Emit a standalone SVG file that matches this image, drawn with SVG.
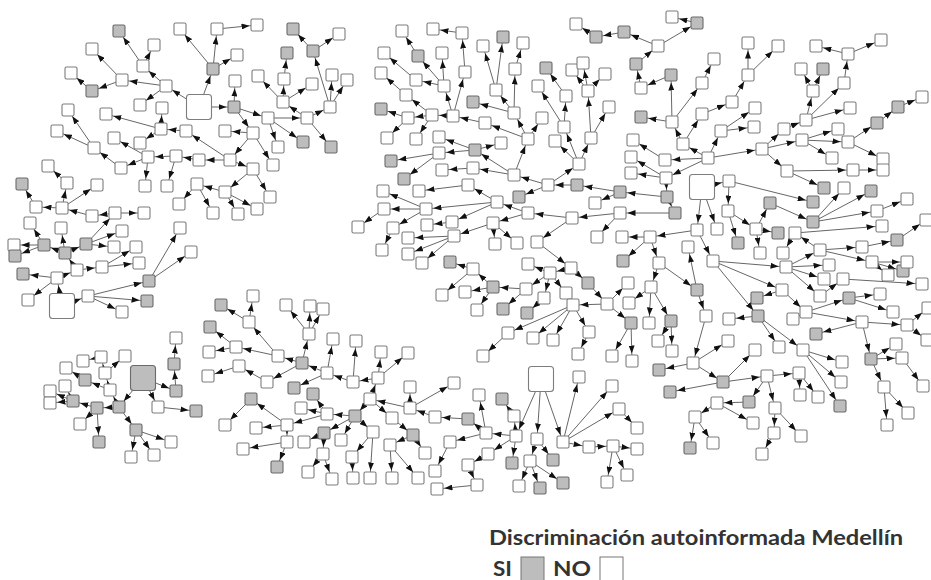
<svg xmlns="http://www.w3.org/2000/svg" xmlns:xlink="http://www.w3.org/1999/xlink" width="931" height="580" viewBox="0 0 931 580">
<style>
#edges line{stroke:#555;stroke-width:0.9;marker-end:url(#ah)}
.lg{font-family:Lato,"Open Sans","Liberation Sans",sans-serif;font-weight:bold;font-size:21px;fill:#333}
.lg2{font-family:Lato,"Open Sans","Liberation Sans",sans-serif;font-weight:bold;font-size:20px;fill:#333}
</style>
<defs>
<marker id="ah" viewBox="0 0 8 6" refX="15.5" refY="3" markerWidth="8" markerHeight="6" markerUnits="userSpaceOnUse" orient="auto"><path d="M0,0L8,3L0,6z" fill="#111"/></marker>
<rect id="W" x="-6" y="-6" width="12" height="12" rx="1.5" fill="#fff" stroke="#7d7d7d" stroke-width="1.1"/>
<rect id="G" x="-6" y="-6" width="12" height="12" rx="1.5" fill="#bdbdbd" stroke="#6a6a6a" stroke-width="1.1"/>
<rect id="L" x="-12.5" y="-12.5" width="25" height="25" rx="3" fill="#fff" stroke="#7d7d7d" stroke-width="1.1"/>
<rect id="LG" x="-12.5" y="-12.5" width="25" height="25" rx="3" fill="#bdbdbd" stroke="#6a6a6a" stroke-width="1.1"/>
</defs>
<rect width="931" height="580" fill="#fff"/>
<g id="edges">
<line x1="199" y1="107" x2="166" y2="86"/><line x1="199" y1="107" x2="213" y2="69"/><line x1="199" y1="107" x2="234" y2="107"/>
<line x1="166" y1="86" x2="143" y2="66"/><line x1="166" y1="86" x2="122" y2="80"/><line x1="166" y1="86" x2="140" y2="105"/>
<line x1="143" y1="66" x2="119" y2="31"/><line x1="143" y1="66" x2="154" y2="45"/>
<line x1="122" y1="80" x2="92" y2="49"/><line x1="122" y1="80" x2="92" y2="91"/><line x1="92" y1="91" x2="71" y2="73"/>
<line x1="213" y1="69" x2="180" y2="29"/><line x1="213" y1="69" x2="217" y2="29"/><line x1="213" y1="69" x2="237" y2="55"/><line x1="217" y1="29" x2="257" y2="25"/>
<line x1="234" y1="107" x2="235" y2="81"/><line x1="234" y1="107" x2="268" y2="118"/><line x1="234" y1="107" x2="253" y2="133"/>
<line x1="268" y1="118" x2="307" y2="118"/><line x1="268" y1="118" x2="278" y2="147"/><line x1="268" y1="118" x2="303" y2="142"/>
<line x1="307" y1="118" x2="283" y2="102"/><line x1="307" y1="118" x2="330" y2="107"/><line x1="307" y1="118" x2="331" y2="147"/>
<line x1="283" y1="102" x2="258" y2="76"/><line x1="283" y1="102" x2="284" y2="79"/><line x1="283" y1="102" x2="312" y2="84"/><line x1="284" y1="79" x2="287" y2="53"/>
<line x1="330" y1="107" x2="313" y2="51"/><line x1="330" y1="107" x2="332" y2="75"/><line x1="330" y1="107" x2="347" y2="80"/><line x1="313" y1="51" x2="293" y2="29"/><line x1="313" y1="51" x2="339" y2="34"/>
<line x1="253" y1="133" x2="225" y2="131"/><line x1="253" y1="133" x2="230" y2="160"/><line x1="253" y1="133" x2="273" y2="165"/>
<line x1="230" y1="160" x2="186" y2="131"/><line x1="230" y1="160" x2="199" y2="160"/><line x1="230" y1="160" x2="253" y2="169"/>
<line x1="186" y1="131" x2="161" y2="129"/><line x1="161" y1="129" x2="162" y2="108"/><line x1="161" y1="129" x2="106" y2="114"/><line x1="161" y1="129" x2="140" y2="143"/>
<line x1="199" y1="160" x2="176" y2="156"/><line x1="176" y1="156" x2="148" y2="157"/><line x1="176" y1="156" x2="167" y2="186"/>
<line x1="148" y1="157" x2="114" y2="138"/><line x1="148" y1="157" x2="121" y2="168"/><line x1="148" y1="157" x2="145" y2="186"/>
<line x1="121" y1="168" x2="94" y2="148"/><line x1="94" y1="148" x2="68" y2="110"/><line x1="94" y1="148" x2="57" y2="131"/>
<line x1="253" y1="169" x2="225" y2="192"/><line x1="253" y1="169" x2="270" y2="197"/>
<line x1="225" y1="192" x2="197" y2="184"/><line x1="225" y1="192" x2="257" y2="209"/><line x1="225" y1="192" x2="238" y2="214"/>
<line x1="197" y1="184" x2="179" y2="204"/><line x1="197" y1="184" x2="213" y2="213"/>
<line x1="62" y1="306" x2="57" y2="278"/><line x1="62" y1="306" x2="88" y2="296"/>
<line x1="57" y1="278" x2="23" y2="274"/><line x1="57" y1="278" x2="77" y2="270"/><line x1="57" y1="278" x2="28" y2="300"/>
<line x1="77" y1="270" x2="102" y2="267"/><line x1="77" y1="270" x2="65" y2="253"/>
<line x1="102" y1="267" x2="139" y2="263"/><line x1="102" y1="267" x2="136" y2="247"/>
<line x1="65" y1="253" x2="44" y2="245"/><line x1="65" y1="253" x2="61" y2="228"/><line x1="65" y1="253" x2="86" y2="244"/>
<line x1="44" y1="245" x2="14" y2="245"/><line x1="44" y1="245" x2="15" y2="256"/><line x1="44" y1="245" x2="30" y2="223"/>
<line x1="86" y1="244" x2="114" y2="247"/><line x1="86" y1="244" x2="115" y2="213"/><line x1="86" y1="244" x2="122" y2="231"/>
<line x1="115" y1="213" x2="92" y2="216"/><line x1="115" y1="213" x2="144" y2="213"/><line x1="92" y1="216" x2="62" y2="208"/>
<line x1="62" y1="208" x2="36" y2="207"/><line x1="62" y1="208" x2="67" y2="183"/><line x1="62" y1="208" x2="97" y2="185"/><line x1="36" y1="207" x2="22" y2="184"/><line x1="67" y1="183" x2="48" y2="166"/>
<line x1="88" y1="296" x2="149" y2="281"/><line x1="88" y1="296" x2="147" y2="301"/><line x1="88" y1="296" x2="122" y2="312"/>
<line x1="149" y1="281" x2="191" y2="252"/><line x1="149" y1="281" x2="180" y2="228"/>
<line x1="143" y1="378" x2="176" y2="391"/><line x1="176" y1="391" x2="174" y2="364"/><line x1="174" y1="364" x2="176" y2="338"/>
<line x1="143" y1="378" x2="158" y2="407"/><line x1="158" y1="407" x2="196" y2="411"/><line x1="143" y1="378" x2="119" y2="407"/>
<line x1="119" y1="407" x2="110" y2="390"/><line x1="110" y1="390" x2="85" y2="380"/><line x1="110" y1="390" x2="105" y2="373"/><line x1="105" y1="373" x2="101" y2="357"/><line x1="105" y1="373" x2="125" y2="356"/><line x1="101" y1="357" x2="83" y2="361"/><line x1="85" y1="380" x2="66" y2="368"/>
<line x1="119" y1="407" x2="97" y2="408"/><line x1="97" y1="408" x2="73" y2="401"/><line x1="97" y1="408" x2="80" y2="424"/><line x1="97" y1="408" x2="99" y2="442"/>
<line x1="73" y1="401" x2="50" y2="391"/><line x1="73" y1="401" x2="50" y2="403"/><line x1="73" y1="401" x2="65" y2="386"/>
<line x1="119" y1="407" x2="136" y2="430"/><line x1="136" y1="430" x2="131" y2="457"/><line x1="136" y1="430" x2="154" y2="455"/><line x1="136" y1="430" x2="171" y2="442"/>
<line x1="278" y1="356" x2="249" y2="322"/><line x1="249" y1="322" x2="253" y2="296"/><line x1="249" y1="322" x2="221" y2="305"/>
<line x1="278" y1="356" x2="236" y2="347"/><line x1="236" y1="347" x2="210" y2="327"/><line x1="236" y1="347" x2="209" y2="352"/>
<line x1="302" y1="363" x2="278" y2="356"/><line x1="302" y1="363" x2="309" y2="334"/><line x1="309" y1="334" x2="286" y2="305"/><line x1="309" y1="334" x2="310" y2="306"/><line x1="309" y1="334" x2="323" y2="309"/>
<line x1="302" y1="363" x2="267" y2="382"/><line x1="267" y1="382" x2="239" y2="366"/><line x1="239" y1="366" x2="208" y2="376"/>
<line x1="327" y1="373" x2="302" y2="363"/><line x1="327" y1="373" x2="333" y2="339"/><line x1="327" y1="373" x2="294" y2="388"/>
<line x1="353" y1="382" x2="327" y2="373"/><line x1="353" y1="382" x2="356" y2="341"/>
<line x1="378" y1="378" x2="353" y2="382"/><line x1="378" y1="378" x2="381" y2="352"/><line x1="378" y1="378" x2="408" y2="353"/>
<line x1="370" y1="399" x2="378" y2="378"/><line x1="435" y1="417" x2="410" y2="408"/><line x1="410" y1="408" x2="410" y2="387"/><line x1="410" y1="408" x2="370" y2="399"/><line x1="410" y1="408" x2="454" y2="383"/>
<line x1="370" y1="399" x2="355" y2="416"/><line x1="370" y1="399" x2="392" y2="418"/><line x1="468" y1="419" x2="435" y2="417"/>
<line x1="355" y1="416" x2="327" y2="414"/><line x1="327" y1="414" x2="313" y2="394"/><line x1="327" y1="414" x2="301" y2="408"/><line x1="327" y1="414" x2="287" y2="425"/>
<line x1="355" y1="416" x2="324" y2="433"/><line x1="355" y1="416" x2="341" y2="440"/><line x1="355" y1="416" x2="373" y2="432"/>
<line x1="324" y1="433" x2="323" y2="454"/><line x1="324" y1="433" x2="304" y2="442"/><line x1="323" y1="454" x2="308" y2="472"/><line x1="323" y1="454" x2="332" y2="479"/>
<line x1="373" y1="432" x2="352" y2="457"/><line x1="373" y1="432" x2="370" y2="478"/><line x1="352" y1="457" x2="353" y2="478"/>
<line x1="392" y1="418" x2="413" y2="435"/><line x1="413" y1="435" x2="425" y2="453"/><line x1="413" y1="435" x2="390" y2="445"/><line x1="390" y1="445" x2="392" y2="478"/><line x1="390" y1="445" x2="418" y2="478"/>
<line x1="287" y1="425" x2="251" y2="399"/><line x1="287" y1="425" x2="256" y2="428"/><line x1="287" y1="425" x2="287" y2="442"/><line x1="251" y1="399" x2="225" y2="425"/>
<line x1="287" y1="442" x2="243" y2="449"/><line x1="287" y1="442" x2="277" y2="467"/>
<line x1="541" y1="379" x2="516" y2="436"/><line x1="541" y1="379" x2="537" y2="439"/><line x1="541" y1="379" x2="563" y2="442"/>
<line x1="563" y1="442" x2="579" y2="377"/><line x1="563" y1="442" x2="612" y2="386"/><line x1="563" y1="442" x2="619" y2="409"/><line x1="619" y1="409" x2="637" y2="428"/>
<line x1="563" y1="442" x2="589" y2="447"/><line x1="589" y1="447" x2="613" y2="446"/><line x1="613" y1="446" x2="637" y2="449"/><line x1="613" y1="446" x2="607" y2="482"/><line x1="613" y1="446" x2="627" y2="475"/>
<line x1="537" y1="439" x2="530" y2="461"/><line x1="537" y1="439" x2="553" y2="460"/><line x1="530" y1="461" x2="519" y2="486"/><line x1="530" y1="461" x2="540" y2="488"/><line x1="530" y1="461" x2="563" y2="483"/>
<line x1="516" y1="436" x2="486" y2="433"/><line x1="516" y1="436" x2="488" y2="454"/><line x1="516" y1="436" x2="512" y2="463"/><line x1="516" y1="436" x2="514" y2="416"/><line x1="514" y1="416" x2="502" y2="399"/>
<line x1="486" y1="433" x2="479" y2="395"/><line x1="486" y1="433" x2="468" y2="419"/><line x1="486" y1="433" x2="450" y2="442"/>
<line x1="488" y1="454" x2="468" y2="465"/><line x1="468" y1="465" x2="477" y2="485"/><line x1="477" y1="485" x2="437" y2="489"/><line x1="450" y1="442" x2="435" y2="471"/>
<line x1="453" y1="116" x2="432" y2="115"/><line x1="432" y1="115" x2="408" y2="118"/><line x1="408" y1="118" x2="381" y2="109"/><line x1="408" y1="118" x2="387" y2="138"/><line x1="432" y1="115" x2="416" y2="139"/><line x1="432" y1="115" x2="406" y2="95"/><line x1="406" y1="95" x2="381" y2="73"/>
<line x1="453" y1="116" x2="444" y2="86"/><line x1="453" y1="116" x2="465" y2="72"/><line x1="444" y1="86" x2="416" y2="80"/><line x1="444" y1="86" x2="418" y2="56"/><line x1="444" y1="86" x2="442" y2="53"/><line x1="416" y1="80" x2="384" y2="53"/>
<line x1="465" y1="72" x2="462" y2="33"/><line x1="462" y1="33" x2="433" y2="29"/><line x1="418" y1="56" x2="402" y2="31"/>
<line x1="475" y1="150" x2="439" y2="137"/><line x1="475" y1="150" x2="439" y2="153"/><line x1="439" y1="153" x2="391" y2="161"/><line x1="439" y1="153" x2="404" y2="179"/>
<line x1="473" y1="168" x2="442" y2="170"/><line x1="468" y1="185" x2="419" y2="191"/>
<line x1="497" y1="202" x2="426" y2="209"/><line x1="452" y1="222" x2="427" y2="225"/><line x1="426" y1="209" x2="383" y2="191"/><line x1="426" y1="209" x2="384" y2="209"/><line x1="426" y1="209" x2="393" y2="228"/><line x1="384" y1="209" x2="358" y2="227"/>
<line x1="454" y1="236" x2="408" y2="238"/><line x1="393" y1="228" x2="382" y2="250"/><line x1="454" y1="236" x2="408" y2="254"/><line x1="454" y1="236" x2="422" y2="263"/>
<line x1="473" y1="269" x2="450" y2="262"/><line x1="473" y1="269" x2="442" y2="295"/><line x1="493" y1="287" x2="473" y2="269"/><line x1="493" y1="287" x2="465" y2="292"/><line x1="485" y1="123" x2="453" y2="116"/>
<line x1="514" y1="113" x2="496" y2="90"/><line x1="496" y1="90" x2="483" y2="46"/><line x1="496" y1="90" x2="503" y2="37"/><line x1="514" y1="113" x2="473" y2="102"/><line x1="514" y1="113" x2="515" y2="69"/><line x1="515" y1="69" x2="523" y2="43"/>
<line x1="528" y1="139" x2="514" y2="113"/><line x1="528" y1="139" x2="542" y2="118"/><line x1="528" y1="139" x2="485" y2="123"/>
<line x1="514" y1="175" x2="528" y2="139"/><line x1="514" y1="175" x2="475" y2="150"/><line x1="475" y1="150" x2="501" y2="143"/><line x1="514" y1="175" x2="473" y2="168"/>
<line x1="548" y1="185" x2="514" y2="175"/><line x1="548" y1="185" x2="519" y2="197"/><line x1="577" y1="185" x2="548" y2="185"/><line x1="548" y1="185" x2="579" y2="164"/>
<line x1="579" y1="164" x2="555" y2="141"/><line x1="579" y1="164" x2="564" y2="127"/><line x1="579" y1="164" x2="591" y2="138"/>
<line x1="564" y1="127" x2="566" y2="96"/><line x1="564" y1="127" x2="538" y2="86"/><line x1="566" y1="96" x2="546" y2="68"/>
<line x1="591" y1="138" x2="588" y2="91"/><line x1="588" y1="91" x2="572" y2="70"/><line x1="588" y1="91" x2="583" y2="63"/><line x1="588" y1="91" x2="605" y2="74"/><line x1="591" y1="138" x2="609" y2="107"/>
<line x1="620" y1="192" x2="577" y2="185"/><line x1="620" y1="192" x2="595" y2="203"/><line x1="667" y1="197" x2="620" y2="192"/><line x1="666" y1="178" x2="667" y2="197"/><line x1="667" y1="197" x2="675" y2="213"/>
<line x1="675" y1="213" x2="620" y2="213"/><line x1="620" y1="213" x2="572" y2="218"/><line x1="620" y1="213" x2="597" y2="237"/>
<line x1="572" y1="218" x2="528" y2="213"/><line x1="572" y1="218" x2="537" y2="242"/><line x1="528" y1="213" x2="497" y2="202"/><line x1="528" y1="213" x2="493" y2="223"/><line x1="493" y1="223" x2="495" y2="244"/><line x1="493" y1="223" x2="517" y2="243"/>
<line x1="497" y1="202" x2="468" y2="185"/><line x1="497" y1="202" x2="452" y2="222"/><line x1="493" y1="223" x2="454" y2="236"/>
<line x1="702" y1="187" x2="697" y2="230"/><line x1="702" y1="187" x2="717" y2="229"/><line x1="697" y1="230" x2="650" y2="237"/><line x1="650" y1="237" x2="622" y2="237"/><line x1="697" y1="230" x2="713" y2="261"/>
<line x1="671" y1="75" x2="641" y2="88"/><line x1="641" y1="88" x2="636" y2="64"/><line x1="636" y1="64" x2="658" y2="46"/><line x1="658" y1="46" x2="624" y2="32"/><line x1="624" y1="32" x2="596" y2="37"/><line x1="596" y1="37" x2="576" y2="24"/><line x1="658" y1="46" x2="697" y2="23"/><line x1="697" y1="23" x2="672" y2="17"/>
<line x1="672" y1="122" x2="671" y2="75"/><line x1="672" y1="122" x2="641" y2="117"/><line x1="683" y1="144" x2="672" y2="122"/><line x1="672" y1="122" x2="702" y2="83"/>
<line x1="708" y1="158" x2="683" y2="144"/><line x1="708" y1="158" x2="665" y2="160"/><line x1="708" y1="158" x2="666" y2="178"/><line x1="666" y1="178" x2="631" y2="157"/><line x1="666" y1="178" x2="631" y2="173"/><line x1="665" y1="160" x2="633" y2="140"/>
<line x1="708" y1="158" x2="721" y2="131"/><line x1="708" y1="158" x2="762" y2="149"/><line x1="683" y1="144" x2="702" y2="114"/><line x1="702" y1="114" x2="732" y2="102"/><line x1="732" y1="102" x2="748" y2="75"/><line x1="748" y1="75" x2="748" y2="43"/><line x1="748" y1="75" x2="778" y2="46"/><line x1="702" y1="83" x2="714" y2="59"/>
<line x1="721" y1="131" x2="755" y2="108"/><line x1="721" y1="131" x2="754" y2="127"/>
<line x1="762" y1="149" x2="784" y2="129"/><line x1="762" y1="149" x2="802" y2="140"/><line x1="762" y1="149" x2="787" y2="171"/>
<line x1="784" y1="129" x2="806" y2="120"/><line x1="806" y1="120" x2="813" y2="91"/><line x1="806" y1="120" x2="850" y2="108"/><line x1="806" y1="120" x2="844" y2="83"/>
<line x1="813" y1="91" x2="801" y2="69"/><line x1="813" y1="91" x2="823" y2="69"/><line x1="844" y1="83" x2="848" y2="54"/><line x1="848" y1="54" x2="816" y2="46"/><line x1="848" y1="54" x2="881" y2="40"/>
<line x1="802" y1="140" x2="838" y2="129"/><line x1="802" y1="140" x2="848" y2="142"/><line x1="802" y1="140" x2="832" y2="158"/>
<line x1="848" y1="142" x2="877" y2="123"/><line x1="877" y1="123" x2="898" y2="107"/><line x1="898" y1="107" x2="922" y2="97"/><line x1="848" y1="142" x2="883" y2="159"/>
<line x1="787" y1="171" x2="853" y2="170"/><line x1="787" y1="171" x2="824" y2="188"/><line x1="853" y1="170" x2="883" y2="170"/>
<line x1="702" y1="187" x2="729" y2="181"/><line x1="729" y1="181" x2="813" y2="202"/><line x1="729" y1="181" x2="728" y2="211"/>
<line x1="728" y1="211" x2="756" y2="229"/><line x1="728" y1="211" x2="738" y2="243"/><line x1="756" y1="229" x2="770" y2="203"/><line x1="756" y1="229" x2="778" y2="233"/><line x1="756" y1="229" x2="760" y2="253"/>
<line x1="770" y1="203" x2="813" y2="222"/><line x1="813" y1="222" x2="844" y2="188"/><line x1="813" y1="222" x2="871" y2="191"/><line x1="813" y1="222" x2="877" y2="211"/><line x1="877" y1="211" x2="907" y2="199"/>
<line x1="795" y1="233" x2="882" y2="226"/><line x1="897" y1="240" x2="926" y2="220"/><line x1="820" y1="250" x2="795" y2="233"/><line x1="795" y1="233" x2="783" y2="253"/><line x1="862" y1="247" x2="897" y2="240"/>
<line x1="713" y1="261" x2="786" y2="267"/><line x1="713" y1="261" x2="782" y2="290"/><line x1="713" y1="261" x2="758" y2="316"/>
<line x1="782" y1="290" x2="757" y2="298"/><line x1="782" y1="290" x2="806" y2="312"/>
<line x1="786" y1="267" x2="820" y2="250"/><line x1="786" y1="267" x2="829" y2="265"/><line x1="786" y1="267" x2="820" y2="296"/><line x1="820" y1="296" x2="843" y2="279"/><line x1="786" y1="267" x2="824" y2="279"/>
<line x1="820" y1="250" x2="862" y2="247"/><line x1="820" y1="250" x2="872" y2="262"/>
<line x1="872" y1="262" x2="888" y2="275"/><line x1="872" y1="262" x2="903" y2="271"/><line x1="872" y1="262" x2="907" y2="262"/><line x1="843" y1="279" x2="922" y2="284"/>
<line x1="806" y1="312" x2="849" y2="298"/><line x1="849" y1="298" x2="880" y2="294"/><line x1="849" y1="298" x2="893" y2="312"/><line x1="806" y1="312" x2="862" y2="322"/><line x1="806" y1="312" x2="793" y2="319"/>
<line x1="862" y1="322" x2="816" y2="334"/><line x1="862" y1="322" x2="907" y2="325"/><line x1="907" y1="325" x2="928" y2="308"/><line x1="907" y1="325" x2="927" y2="340"/>
<line x1="862" y1="322" x2="871" y2="359"/><line x1="871" y1="359" x2="896" y2="344"/><line x1="871" y1="359" x2="902" y2="358"/><line x1="902" y1="358" x2="923" y2="386"/><line x1="871" y1="359" x2="884" y2="387"/><line x1="884" y1="387" x2="887" y2="425"/><line x1="884" y1="387" x2="908" y2="413"/>
<line x1="758" y1="316" x2="729" y2="319"/><line x1="758" y1="316" x2="779" y2="347"/><line x1="758" y1="316" x2="803" y2="350"/>
<line x1="803" y1="350" x2="842" y2="362"/><line x1="803" y1="350" x2="841" y2="382"/><line x1="803" y1="350" x2="840" y2="406"/>
<line x1="697" y1="290" x2="706" y2="316"/><line x1="706" y1="316" x2="693" y2="363"/><line x1="693" y1="363" x2="728" y2="341"/><line x1="693" y1="363" x2="723" y2="382"/><line x1="693" y1="363" x2="659" y2="370"/>
<line x1="723" y1="382" x2="755" y2="350"/><line x1="723" y1="382" x2="767" y2="376"/><line x1="723" y1="382" x2="670" y2="392"/>
<line x1="767" y1="376" x2="799" y2="373"/><line x1="799" y1="373" x2="800" y2="395"/><line x1="799" y1="373" x2="818" y2="397"/><line x1="767" y1="376" x2="749" y2="402"/><line x1="749" y1="402" x2="717" y2="403"/><line x1="767" y1="376" x2="775" y2="408"/>
<line x1="775" y1="408" x2="774" y2="433"/><line x1="775" y1="408" x2="801" y2="436"/><line x1="774" y1="433" x2="762" y2="454"/>
<line x1="717" y1="403" x2="695" y2="417"/><line x1="717" y1="403" x2="753" y2="423"/><line x1="695" y1="417" x2="690" y2="448"/><line x1="695" y1="417" x2="713" y2="443"/>
<line x1="659" y1="263" x2="697" y2="290"/><line x1="697" y1="290" x2="688" y2="247"/>
<line x1="537" y1="242" x2="571" y2="268"/><line x1="571" y1="268" x2="550" y2="273"/><line x1="550" y1="273" x2="528" y2="264"/><line x1="550" y1="273" x2="526" y2="289"/><line x1="550" y1="273" x2="544" y2="298"/><line x1="550" y1="273" x2="566" y2="293"/>
<line x1="526" y1="289" x2="493" y2="287"/><line x1="526" y1="289" x2="503" y2="309"/><line x1="544" y1="298" x2="527" y2="313"/>
<line x1="571" y1="268" x2="588" y2="283"/><line x1="588" y1="283" x2="607" y2="304"/><line x1="607" y1="304" x2="573" y2="305"/><line x1="607" y1="304" x2="628" y2="283"/><line x1="607" y1="304" x2="631" y2="323"/>
<line x1="573" y1="305" x2="508" y2="333"/><line x1="573" y1="305" x2="533" y2="338"/><line x1="573" y1="305" x2="553" y2="340"/><line x1="573" y1="305" x2="589" y2="332"/><line x1="589" y1="332" x2="578" y2="354"/><line x1="508" y1="333" x2="483" y2="356"/>
<line x1="493" y1="287" x2="477" y2="310"/><line x1="631" y1="323" x2="612" y2="356"/><line x1="631" y1="323" x2="632" y2="361"/>
<line x1="650" y1="237" x2="659" y2="263"/><line x1="650" y1="237" x2="623" y2="261"/><line x1="659" y1="263" x2="651" y2="287"/>
<line x1="651" y1="287" x2="629" y2="303"/><line x1="651" y1="287" x2="649" y2="323"/><line x1="651" y1="287" x2="671" y2="321"/><line x1="671" y1="321" x2="658" y2="341"/><line x1="671" y1="321" x2="672" y2="351"/>
</g>
<g id="nodes">
<g id="n199-107"><use href="#L" x="199" y="107"/></g>
<g id="n166-86"><use href="#W" x="166" y="86"/></g>
<g id="n143-66"><use href="#W" x="143" y="66"/></g>
<g id="n122-80"><use href="#W" x="122" y="80"/></g>
<g id="n140-105"><use href="#W" x="140" y="105"/></g>
<g id="n119-31"><use href="#G" x="119" y="31"/></g>
<g id="n154-45"><use href="#W" x="154" y="45"/></g>
<g id="n92-49"><use href="#W" x="92" y="49"/></g>
<g id="n92-91"><use href="#G" x="92" y="91"/></g>
<g id="n71-73"><use href="#W" x="71" y="73"/></g>
<g id="n213-69"><use href="#G" x="213" y="69"/></g>
<g id="n180-29"><use href="#W" x="180" y="29"/></g>
<g id="n217-29"><use href="#W" x="217" y="29"/></g>
<g id="n237-55"><use href="#W" x="237" y="55"/></g>
<g id="n257-25"><use href="#W" x="257" y="25"/></g>
<g id="n234-107"><use href="#G" x="234" y="107"/></g>
<g id="n235-81"><use href="#W" x="235" y="81"/></g>
<g id="n268-118"><use href="#W" x="268" y="118"/></g>
<g id="n253-133"><use href="#W" x="253" y="133"/></g>
<g id="n307-118"><use href="#W" x="307" y="118"/></g>
<g id="n278-147"><use href="#W" x="278" y="147"/></g>
<g id="n303-142"><use href="#G" x="303" y="142"/></g>
<g id="n283-102"><use href="#W" x="283" y="102"/></g>
<g id="n330-107"><use href="#W" x="330" y="107"/></g>
<g id="n331-147"><use href="#G" x="331" y="147"/></g>
<g id="n258-76"><use href="#W" x="258" y="76"/></g>
<g id="n284-79"><use href="#W" x="284" y="79"/></g>
<g id="n312-84"><use href="#W" x="312" y="84"/></g>
<g id="n287-53"><use href="#G" x="287" y="53"/></g>
<g id="n313-51"><use href="#G" x="313" y="51"/></g>
<g id="n332-75"><use href="#W" x="332" y="75"/></g>
<g id="n347-80"><use href="#W" x="347" y="80"/></g>
<g id="n293-29"><use href="#G" x="293" y="29"/></g>
<g id="n339-34"><use href="#W" x="339" y="34"/></g>
<g id="n225-131"><use href="#W" x="225" y="131"/></g>
<g id="n186-131"><use href="#W" x="186" y="131"/></g>
<g id="n161-129"><use href="#W" x="161" y="129"/></g>
<g id="n162-108"><use href="#W" x="162" y="108"/></g>
<g id="n106-114"><use href="#W" x="106" y="114"/></g>
<g id="n140-143"><use href="#W" x="140" y="143"/></g>
<g id="n230-160"><use href="#W" x="230" y="160"/></g>
<g id="n199-160"><use href="#W" x="199" y="160"/></g>
<g id="n176-156"><use href="#W" x="176" y="156"/></g>
<g id="n148-157"><use href="#W" x="148" y="157"/></g>
<g id="n114-138"><use href="#W" x="114" y="138"/></g>
<g id="n121-168"><use href="#W" x="121" y="168"/></g>
<g id="n145-186"><use href="#W" x="145" y="186"/></g>
<g id="n167-186"><use href="#W" x="167" y="186"/></g>
<g id="n94-148"><use href="#W" x="94" y="148"/></g>
<g id="n68-110"><use href="#W" x="68" y="110"/></g>
<g id="n57-131"><use href="#W" x="57" y="131"/></g>
<g id="n273-165"><use href="#W" x="273" y="165"/></g>
<g id="n253-169"><use href="#W" x="253" y="169"/></g>
<g id="n225-192"><use href="#W" x="225" y="192"/></g>
<g id="n270-197"><use href="#W" x="270" y="197"/></g>
<g id="n197-184"><use href="#W" x="197" y="184"/></g>
<g id="n179-204"><use href="#W" x="179" y="204"/></g>
<g id="n213-213"><use href="#W" x="213" y="213"/></g>
<g id="n257-209"><use href="#W" x="257" y="209"/></g>
<g id="n238-214"><use href="#W" x="238" y="214"/></g>
<g id="n62-306"><use href="#L" x="62" y="306"/></g>
<g id="n57-278"><use href="#W" x="57" y="278"/></g>
<g id="n23-274"><use href="#G" x="23" y="274"/></g>
<g id="n77-270"><use href="#W" x="77" y="270"/></g>
<g id="n28-300"><use href="#W" x="28" y="300"/></g>
<g id="n102-267"><use href="#W" x="102" y="267"/></g>
<g id="n139-263"><use href="#W" x="139" y="263"/></g>
<g id="n136-247"><use href="#W" x="136" y="247"/></g>
<g id="n65-253"><use href="#G" x="65" y="253"/></g>
<g id="n44-245"><use href="#G" x="44" y="245"/></g>
<g id="n14-245"><use href="#W" x="14" y="245"/></g>
<g id="n15-256"><use href="#G" x="15" y="256"/></g>
<g id="n86-244"><use href="#G" x="86" y="244"/></g>
<g id="n114-247"><use href="#W" x="114" y="247"/></g>
<g id="n122-231"><use href="#W" x="122" y="231"/></g>
<g id="n115-213"><use href="#W" x="115" y="213"/></g>
<g id="n92-216"><use href="#W" x="92" y="216"/></g>
<g id="n144-213"><use href="#W" x="144" y="213"/></g>
<g id="n62-208"><use href="#W" x="62" y="208"/></g>
<g id="n36-207"><use href="#W" x="36" y="207"/></g>
<g id="n22-184"><use href="#G" x="22" y="184"/></g>
<g id="n67-183"><use href="#W" x="67" y="183"/></g>
<g id="n48-166"><use href="#W" x="48" y="166"/></g>
<g id="n97-185"><use href="#W" x="97" y="185"/></g>
<g id="n30-223"><use href="#W" x="30" y="223"/></g>
<g id="n61-228"><use href="#W" x="61" y="228"/></g>
<g id="n88-296"><use href="#W" x="88" y="296"/></g>
<g id="n149-281"><use href="#G" x="149" y="281"/></g>
<g id="n147-301"><use href="#G" x="147" y="301"/></g>
<g id="n122-312"><use href="#W" x="122" y="312"/></g>
<g id="n191-252"><use href="#W" x="191" y="252"/></g>
<g id="n180-228"><use href="#W" x="180" y="228"/></g>
<g id="n143-378"><use href="#LG" x="143" y="378"/></g>
<g id="n176-391"><use href="#G" x="176" y="391"/></g>
<g id="n174-364"><use href="#G" x="174" y="364"/></g>
<g id="n176-338"><use href="#W" x="176" y="338"/></g>
<g id="n158-407"><use href="#W" x="158" y="407"/></g>
<g id="n196-411"><use href="#G" x="196" y="411"/></g>
<g id="n119-407"><use href="#G" x="119" y="407"/></g>
<g id="n110-390"><use href="#W" x="110" y="390"/></g>
<g id="n105-373"><use href="#W" x="105" y="373"/></g>
<g id="n101-357"><use href="#W" x="101" y="357"/></g>
<g id="n125-356"><use href="#W" x="125" y="356"/></g>
<g id="n83-361"><use href="#W" x="83" y="361"/></g>
<g id="n85-380"><use href="#G" x="85" y="380"/></g>
<g id="n66-368"><use href="#W" x="66" y="368"/></g>
<g id="n97-408"><use href="#G" x="97" y="408"/></g>
<g id="n73-401"><use href="#G" x="73" y="401"/></g>
<g id="n50-391"><use href="#W" x="50" y="391"/></g>
<g id="n50-403"><use href="#W" x="50" y="403"/></g>
<g id="n65-386"><use href="#W" x="65" y="386"/></g>
<g id="n80-424"><use href="#W" x="80" y="424"/></g>
<g id="n99-442"><use href="#G" x="99" y="442"/></g>
<g id="n136-430"><use href="#G" x="136" y="430"/></g>
<g id="n131-457"><use href="#W" x="131" y="457"/></g>
<g id="n154-455"><use href="#W" x="154" y="455"/></g>
<g id="n171-442"><use href="#W" x="171" y="442"/></g>
<g id="n253-296"><use href="#W" x="253" y="296"/></g>
<g id="n249-322"><use href="#W" x="249" y="322"/></g>
<g id="n221-305"><use href="#G" x="221" y="305"/></g>
<g id="n236-347"><use href="#W" x="236" y="347"/></g>
<g id="n210-327"><use href="#G" x="210" y="327"/></g>
<g id="n209-352"><use href="#W" x="209" y="352"/></g>
<g id="n278-356"><use href="#W" x="278" y="356"/></g>
<g id="n302-363"><use href="#G" x="302" y="363"/></g>
<g id="n309-334"><use href="#W" x="309" y="334"/></g>
<g id="n286-305"><use href="#W" x="286" y="305"/></g>
<g id="n310-306"><use href="#W" x="310" y="306"/></g>
<g id="n323-309"><use href="#W" x="323" y="309"/></g>
<g id="n267-382"><use href="#W" x="267" y="382"/></g>
<g id="n239-366"><use href="#W" x="239" y="366"/></g>
<g id="n208-376"><use href="#W" x="208" y="376"/></g>
<g id="n327-373"><use href="#W" x="327" y="373"/></g>
<g id="n333-339"><use href="#W" x="333" y="339"/></g>
<g id="n294-388"><use href="#G" x="294" y="388"/></g>
<g id="n353-382"><use href="#W" x="353" y="382"/></g>
<g id="n356-341"><use href="#W" x="356" y="341"/></g>
<g id="n378-378"><use href="#W" x="378" y="378"/></g>
<g id="n381-352"><use href="#W" x="381" y="352"/></g>
<g id="n408-353"><use href="#W" x="408" y="353"/></g>
<g id="n370-399"><use href="#W" x="370" y="399"/></g>
<g id="n410-387"><use href="#W" x="410" y="387"/></g>
<g id="n410-408"><use href="#W" x="410" y="408"/></g>
<g id="n454-383"><use href="#W" x="454" y="383"/></g>
<g id="n435-417"><use href="#W" x="435" y="417"/></g>
<g id="n468-419"><use href="#G" x="468" y="419"/></g>
<g id="n355-416"><use href="#G" x="355" y="416"/></g>
<g id="n327-414"><use href="#W" x="327" y="414"/></g>
<g id="n313-394"><use href="#G" x="313" y="394"/></g>
<g id="n301-408"><use href="#W" x="301" y="408"/></g>
<g id="n324-433"><use href="#G" x="324" y="433"/></g>
<g id="n341-440"><use href="#W" x="341" y="440"/></g>
<g id="n373-432"><use href="#W" x="373" y="432"/></g>
<g id="n392-418"><use href="#W" x="392" y="418"/></g>
<g id="n413-435"><use href="#G" x="413" y="435"/></g>
<g id="n425-453"><use href="#W" x="425" y="453"/></g>
<g id="n390-445"><use href="#W" x="390" y="445"/></g>
<g id="n392-478"><use href="#W" x="392" y="478"/></g>
<g id="n418-478"><use href="#W" x="418" y="478"/></g>
<g id="n352-457"><use href="#W" x="352" y="457"/></g>
<g id="n370-478"><use href="#W" x="370" y="478"/></g>
<g id="n353-478"><use href="#W" x="353" y="478"/></g>
<g id="n323-454"><use href="#W" x="323" y="454"/></g>
<g id="n308-472"><use href="#W" x="308" y="472"/></g>
<g id="n332-479"><use href="#W" x="332" y="479"/></g>
<g id="n304-442"><use href="#W" x="304" y="442"/></g>
<g id="n287-425"><use href="#W" x="287" y="425"/></g>
<g id="n251-399"><use href="#G" x="251" y="399"/></g>
<g id="n225-425"><use href="#W" x="225" y="425"/></g>
<g id="n256-428"><use href="#W" x="256" y="428"/></g>
<g id="n287-442"><use href="#W" x="287" y="442"/></g>
<g id="n243-449"><use href="#W" x="243" y="449"/></g>
<g id="n277-467"><use href="#G" x="277" y="467"/></g>
<g id="n450-442"><use href="#W" x="450" y="442"/></g>
<g id="n435-471"><use href="#W" x="435" y="471"/></g>
<g id="n437-489"><use href="#W" x="437" y="489"/></g>
<g id="n468-465"><use href="#W" x="468" y="465"/></g>
<g id="n477-485"><use href="#W" x="477" y="485"/></g>
<g id="n541-379"><use href="#L" x="541" y="379"/></g>
<g id="n516-436"><use href="#W" x="516" y="436"/></g>
<g id="n537-439"><use href="#W" x="537" y="439"/></g>
<g id="n563-442"><use href="#W" x="563" y="442"/></g>
<g id="n579-377"><use href="#W" x="579" y="377"/></g>
<g id="n612-386"><use href="#W" x="612" y="386"/></g>
<g id="n619-409"><use href="#W" x="619" y="409"/></g>
<g id="n637-428"><use href="#W" x="637" y="428"/></g>
<g id="n589-447"><use href="#W" x="589" y="447"/></g>
<g id="n613-446"><use href="#W" x="613" y="446"/></g>
<g id="n637-449"><use href="#W" x="637" y="449"/></g>
<g id="n607-482"><use href="#W" x="607" y="482"/></g>
<g id="n627-475"><use href="#W" x="627" y="475"/></g>
<g id="n530-461"><use href="#W" x="530" y="461"/></g>
<g id="n553-460"><use href="#G" x="553" y="460"/></g>
<g id="n519-486"><use href="#W" x="519" y="486"/></g>
<g id="n540-488"><use href="#G" x="540" y="488"/></g>
<g id="n563-483"><use href="#G" x="563" y="483"/></g>
<g id="n486-433"><use href="#W" x="486" y="433"/></g>
<g id="n488-454"><use href="#W" x="488" y="454"/></g>
<g id="n512-463"><use href="#G" x="512" y="463"/></g>
<g id="n479-395"><use href="#W" x="479" y="395"/></g>
<g id="n502-399"><use href="#G" x="502" y="399"/></g>
<g id="n514-416"><use href="#W" x="514" y="416"/></g>
<g id="n402-31"><use href="#W" x="402" y="31"/></g>
<g id="n433-29"><use href="#W" x="433" y="29"/></g>
<g id="n462-33"><use href="#W" x="462" y="33"/></g>
<g id="n384-53"><use href="#W" x="384" y="53"/></g>
<g id="n418-56"><use href="#G" x="418" y="56"/></g>
<g id="n442-53"><use href="#W" x="442" y="53"/></g>
<g id="n465-72"><use href="#W" x="465" y="72"/></g>
<g id="n381-73"><use href="#W" x="381" y="73"/></g>
<g id="n416-80"><use href="#W" x="416" y="80"/></g>
<g id="n444-86"><use href="#W" x="444" y="86"/></g>
<g id="n406-95"><use href="#W" x="406" y="95"/></g>
<g id="n381-109"><use href="#G" x="381" y="109"/></g>
<g id="n408-118"><use href="#W" x="408" y="118"/></g>
<g id="n432-115"><use href="#W" x="432" y="115"/></g>
<g id="n453-116"><use href="#W" x="453" y="116"/></g>
<g id="n387-138"><use href="#W" x="387" y="138"/></g>
<g id="n416-139"><use href="#W" x="416" y="139"/></g>
<g id="n439-137"><use href="#W" x="439" y="137"/></g>
<g id="n439-153"><use href="#W" x="439" y="153"/></g>
<g id="n391-161"><use href="#G" x="391" y="161"/></g>
<g id="n404-179"><use href="#G" x="404" y="179"/></g>
<g id="n442-170"><use href="#W" x="442" y="170"/></g>
<g id="n473-168"><use href="#W" x="473" y="168"/></g>
<g id="n419-191"><use href="#W" x="419" y="191"/></g>
<g id="n468-185"><use href="#W" x="468" y="185"/></g>
<g id="n383-191"><use href="#W" x="383" y="191"/></g>
<g id="n384-209"><use href="#W" x="384" y="209"/></g>
<g id="n426-209"><use href="#W" x="426" y="209"/></g>
<g id="n358-227"><use href="#W" x="358" y="227"/></g>
<g id="n393-228"><use href="#W" x="393" y="228"/></g>
<g id="n427-225"><use href="#W" x="427" y="225"/></g>
<g id="n452-222"><use href="#W" x="452" y="222"/></g>
<g id="n408-238"><use href="#W" x="408" y="238"/></g>
<g id="n454-236"><use href="#W" x="454" y="236"/></g>
<g id="n382-250"><use href="#W" x="382" y="250"/></g>
<g id="n408-254"><use href="#W" x="408" y="254"/></g>
<g id="n422-263"><use href="#W" x="422" y="263"/></g>
<g id="n450-262"><use href="#G" x="450" y="262"/></g>
<g id="n473-269"><use href="#W" x="473" y="269"/></g>
<g id="n442-295"><use href="#W" x="442" y="295"/></g>
<g id="n465-292"><use href="#W" x="465" y="292"/></g>
<g id="n503-37"><use href="#G" x="503" y="37"/></g>
<g id="n483-46"><use href="#W" x="483" y="46"/></g>
<g id="n523-43"><use href="#W" x="523" y="43"/></g>
<g id="n496-90"><use href="#W" x="496" y="90"/></g>
<g id="n515-69"><use href="#W" x="515" y="69"/></g>
<g id="n473-102"><use href="#G" x="473" y="102"/></g>
<g id="n514-113"><use href="#W" x="514" y="113"/></g>
<g id="n542-118"><use href="#W" x="542" y="118"/></g>
<g id="n485-123"><use href="#W" x="485" y="123"/></g>
<g id="n528-139"><use href="#W" x="528" y="139"/></g>
<g id="n501-143"><use href="#W" x="501" y="143"/></g>
<g id="n475-150"><use href="#G" x="475" y="150"/></g>
<g id="n514-175"><use href="#W" x="514" y="175"/></g>
<g id="n548-185"><use href="#W" x="548" y="185"/></g>
<g id="n519-197"><use href="#G" x="519" y="197"/></g>
<g id="n577-185"><use href="#G" x="577" y="185"/></g>
<g id="n579-164"><use href="#W" x="579" y="164"/></g>
<g id="n555-141"><use href="#W" x="555" y="141"/></g>
<g id="n564-127"><use href="#W" x="564" y="127"/></g>
<g id="n591-138"><use href="#W" x="591" y="138"/></g>
<g id="n566-96"><use href="#W" x="566" y="96"/></g>
<g id="n538-86"><use href="#W" x="538" y="86"/></g>
<g id="n546-68"><use href="#G" x="546" y="68"/></g>
<g id="n588-91"><use href="#W" x="588" y="91"/></g>
<g id="n572-70"><use href="#W" x="572" y="70"/></g>
<g id="n583-63"><use href="#W" x="583" y="63"/></g>
<g id="n605-74"><use href="#W" x="605" y="74"/></g>
<g id="n609-107"><use href="#W" x="609" y="107"/></g>
<g id="n620-192"><use href="#G" x="620" y="192"/></g>
<g id="n595-203"><use href="#W" x="595" y="203"/></g>
<g id="n667-197"><use href="#G" x="667" y="197"/></g>
<g id="n675-213"><use href="#G" x="675" y="213"/></g>
<g id="n620-213"><use href="#W" x="620" y="213"/></g>
<g id="n572-218"><use href="#W" x="572" y="218"/></g>
<g id="n597-237"><use href="#W" x="597" y="237"/></g>
<g id="n528-213"><use href="#W" x="528" y="213"/></g>
<g id="n537-242"><use href="#W" x="537" y="242"/></g>
<g id="n497-202"><use href="#W" x="497" y="202"/></g>
<g id="n493-223"><use href="#W" x="493" y="223"/></g>
<g id="n495-244"><use href="#W" x="495" y="244"/></g>
<g id="n517-243"><use href="#W" x="517" y="243"/></g>
<g id="n622-237"><use href="#W" x="622" y="237"/></g>
<g id="n650-237"><use href="#W" x="650" y="237"/></g>
<g id="n697-230"><use href="#W" x="697" y="230"/></g>
<g id="n576-24"><use href="#W" x="576" y="24"/></g>
<g id="n596-37"><use href="#G" x="596" y="37"/></g>
<g id="n624-32"><use href="#G" x="624" y="32"/></g>
<g id="n658-46"><use href="#W" x="658" y="46"/></g>
<g id="n672-17"><use href="#W" x="672" y="17"/></g>
<g id="n697-23"><use href="#G" x="697" y="23"/></g>
<g id="n636-64"><use href="#G" x="636" y="64"/></g>
<g id="n641-88"><use href="#W" x="641" y="88"/></g>
<g id="n671-75"><use href="#G" x="671" y="75"/></g>
<g id="n641-117"><use href="#G" x="641" y="117"/></g>
<g id="n672-122"><use href="#W" x="672" y="122"/></g>
<g id="n633-140"><use href="#W" x="633" y="140"/></g>
<g id="n683-144"><use href="#W" x="683" y="144"/></g>
<g id="n631-157"><use href="#W" x="631" y="157"/></g>
<g id="n665-160"><use href="#W" x="665" y="160"/></g>
<g id="n631-173"><use href="#W" x="631" y="173"/></g>
<g id="n666-178"><use href="#W" x="666" y="178"/></g>
<g id="n702-187"><use href="#L" x="702" y="187"/></g>
<g id="n717-229"><use href="#W" x="717" y="229"/></g>
<g id="n748-43"><use href="#W" x="748" y="43"/></g>
<g id="n778-46"><use href="#W" x="778" y="46"/></g>
<g id="n714-59"><use href="#W" x="714" y="59"/></g>
<g id="n748-75"><use href="#W" x="748" y="75"/></g>
<g id="n702-83"><use href="#W" x="702" y="83"/></g>
<g id="n732-102"><use href="#W" x="732" y="102"/></g>
<g id="n702-114"><use href="#W" x="702" y="114"/></g>
<g id="n755-108"><use href="#W" x="755" y="108"/></g>
<g id="n721-131"><use href="#W" x="721" y="131"/></g>
<g id="n754-127"><use href="#W" x="754" y="127"/></g>
<g id="n816-46"><use href="#W" x="816" y="46"/></g>
<g id="n848-54"><use href="#W" x="848" y="54"/></g>
<g id="n881-40"><use href="#W" x="881" y="40"/></g>
<g id="n801-69"><use href="#W" x="801" y="69"/></g>
<g id="n823-69"><use href="#G" x="823" y="69"/></g>
<g id="n813-91"><use href="#W" x="813" y="91"/></g>
<g id="n844-83"><use href="#W" x="844" y="83"/></g>
<g id="n850-108"><use href="#W" x="850" y="108"/></g>
<g id="n806-120"><use href="#W" x="806" y="120"/></g>
<g id="n784-129"><use href="#W" x="784" y="129"/></g>
<g id="n838-129"><use href="#W" x="838" y="129"/></g>
<g id="n922-97"><use href="#W" x="922" y="97"/></g>
<g id="n898-107"><use href="#G" x="898" y="107"/></g>
<g id="n877-123"><use href="#G" x="877" y="123"/></g>
<g id="n762-149"><use href="#W" x="762" y="149"/></g>
<g id="n802-140"><use href="#W" x="802" y="140"/></g>
<g id="n848-142"><use href="#W" x="848" y="142"/></g>
<g id="n832-158"><use href="#W" x="832" y="158"/></g>
<g id="n708-158"><use href="#W" x="708" y="158"/></g>
<g id="n883-159"><use href="#W" x="883" y="159"/></g>
<g id="n883-170"><use href="#W" x="883" y="170"/></g>
<g id="n787-171"><use href="#W" x="787" y="171"/></g>
<g id="n853-170"><use href="#W" x="853" y="170"/></g>
<g id="n729-181"><use href="#W" x="729" y="181"/></g>
<g id="n824-188"><use href="#G" x="824" y="188"/></g>
<g id="n844-188"><use href="#W" x="844" y="188"/></g>
<g id="n871-191"><use href="#G" x="871" y="191"/></g>
<g id="n770-203"><use href="#G" x="770" y="203"/></g>
<g id="n813-202"><use href="#G" x="813" y="202"/></g>
<g id="n907-199"><use href="#W" x="907" y="199"/></g>
<g id="n728-211"><use href="#W" x="728" y="211"/></g>
<g id="n813-222"><use href="#G" x="813" y="222"/></g>
<g id="n877-211"><use href="#W" x="877" y="211"/></g>
<g id="n756-229"><use href="#W" x="756" y="229"/></g>
<g id="n778-233"><use href="#G" x="778" y="233"/></g>
<g id="n795-233"><use href="#W" x="795" y="233"/></g>
<g id="n882-226"><use href="#W" x="882" y="226"/></g>
<g id="n926-220"><use href="#W" x="926" y="220"/></g>
<g id="n738-243"><use href="#G" x="738" y="243"/></g>
<g id="n897-240"><use href="#G" x="897" y="240"/></g>
<g id="n820-250"><use href="#W" x="820" y="250"/></g>
<g id="n862-247"><use href="#W" x="862" y="247"/></g>
<g id="n760-253"><use href="#W" x="760" y="253"/></g>
<g id="n783-253"><use href="#W" x="783" y="253"/></g>
<g id="n713-261"><use href="#W" x="713" y="261"/></g>
<g id="n786-267"><use href="#W" x="786" y="267"/></g>
<g id="n829-265"><use href="#W" x="829" y="265"/></g>
<g id="n872-262"><use href="#W" x="872" y="262"/></g>
<g id="n903-271"><use href="#G" x="903" y="271"/></g>
<g id="n907-262"><use href="#W" x="907" y="262"/></g>
<g id="n888-275"><use href="#W" x="888" y="275"/></g>
<g id="n824-279"><use href="#W" x="824" y="279"/></g>
<g id="n843-279"><use href="#W" x="843" y="279"/></g>
<g id="n922-284"><use href="#W" x="922" y="284"/></g>
<g id="n697-290"><use href="#G" x="697" y="290"/></g>
<g id="n782-290"><use href="#W" x="782" y="290"/></g>
<g id="n757-298"><use href="#G" x="757" y="298"/></g>
<g id="n820-296"><use href="#W" x="820" y="296"/></g>
<g id="n849-298"><use href="#G" x="849" y="298"/></g>
<g id="n880-294"><use href="#W" x="880" y="294"/></g>
<g id="n706-316"><use href="#W" x="706" y="316"/></g>
<g id="n729-319"><use href="#W" x="729" y="319"/></g>
<g id="n758-316"><use href="#G" x="758" y="316"/></g>
<g id="n806-312"><use href="#W" x="806" y="312"/></g>
<g id="n793-319"><use href="#W" x="793" y="319"/></g>
<g id="n893-312"><use href="#W" x="893" y="312"/></g>
<g id="n862-322"><use href="#W" x="862" y="322"/></g>
<g id="n907-325"><use href="#W" x="907" y="325"/></g>
<g id="n928-308"><use href="#W" x="928" y="308"/></g>
<g id="n927-340"><use href="#W" x="927" y="340"/></g>
<g id="n816-334"><use href="#G" x="816" y="334"/></g>
<g id="n779-347"><use href="#W" x="779" y="347"/></g>
<g id="n803-350"><use href="#W" x="803" y="350"/></g>
<g id="n896-344"><use href="#W" x="896" y="344"/></g>
<g id="n871-359"><use href="#G" x="871" y="359"/></g>
<g id="n902-358"><use href="#W" x="902" y="358"/></g>
<g id="n728-341"><use href="#W" x="728" y="341"/></g>
<g id="n755-350"><use href="#W" x="755" y="350"/></g>
<g id="n842-362"><use href="#W" x="842" y="362"/></g>
<g id="n841-382"><use href="#W" x="841" y="382"/></g>
<g id="n693-363"><use href="#W" x="693" y="363"/></g>
<g id="n723-382"><use href="#G" x="723" y="382"/></g>
<g id="n767-376"><use href="#W" x="767" y="376"/></g>
<g id="n799-373"><use href="#W" x="799" y="373"/></g>
<g id="n800-395"><use href="#W" x="800" y="395"/></g>
<g id="n818-397"><use href="#W" x="818" y="397"/></g>
<g id="n884-387"><use href="#W" x="884" y="387"/></g>
<g id="n923-386"><use href="#W" x="923" y="386"/></g>
<g id="n840-406"><use href="#G" x="840" y="406"/></g>
<g id="n749-402"><use href="#G" x="749" y="402"/></g>
<g id="n717-403"><use href="#W" x="717" y="403"/></g>
<g id="n775-408"><use href="#W" x="775" y="408"/></g>
<g id="n695-417"><use href="#W" x="695" y="417"/></g>
<g id="n753-423"><use href="#W" x="753" y="423"/></g>
<g id="n908-413"><use href="#W" x="908" y="413"/></g>
<g id="n713-443"><use href="#W" x="713" y="443"/></g>
<g id="n774-433"><use href="#W" x="774" y="433"/></g>
<g id="n801-436"><use href="#W" x="801" y="436"/></g>
<g id="n887-425"><use href="#W" x="887" y="425"/></g>
<g id="n690-448"><use href="#G" x="690" y="448"/></g>
<g id="n762-454"><use href="#W" x="762" y="454"/></g>
<g id="n659-370"><use href="#G" x="659" y="370"/></g>
<g id="n670-392"><use href="#G" x="670" y="392"/></g>
<g id="n528-264"><use href="#W" x="528" y="264"/></g>
<g id="n550-273"><use href="#W" x="550" y="273"/></g>
<g id="n571-268"><use href="#W" x="571" y="268"/></g>
<g id="n588-283"><use href="#G" x="588" y="283"/></g>
<g id="n607-304"><use href="#W" x="607" y="304"/></g>
<g id="n566-293"><use href="#W" x="566" y="293"/></g>
<g id="n573-305"><use href="#W" x="573" y="305"/></g>
<g id="n526-289"><use href="#W" x="526" y="289"/></g>
<g id="n544-298"><use href="#W" x="544" y="298"/></g>
<g id="n493-287"><use href="#G" x="493" y="287"/></g>
<g id="n503-309"><use href="#G" x="503" y="309"/></g>
<g id="n527-313"><use href="#G" x="527" y="313"/></g>
<g id="n477-310"><use href="#W" x="477" y="310"/></g>
<g id="n508-333"><use href="#W" x="508" y="333"/></g>
<g id="n533-338"><use href="#W" x="533" y="338"/></g>
<g id="n553-340"><use href="#W" x="553" y="340"/></g>
<g id="n589-332"><use href="#W" x="589" y="332"/></g>
<g id="n578-354"><use href="#W" x="578" y="354"/></g>
<g id="n483-356"><use href="#W" x="483" y="356"/></g>
<g id="n628-283"><use href="#W" x="628" y="283"/></g>
<g id="n631-323"><use href="#G" x="631" y="323"/></g>
<g id="n612-356"><use href="#W" x="612" y="356"/></g>
<g id="n632-361"><use href="#W" x="632" y="361"/></g>
<g id="n623-261"><use href="#G" x="623" y="261"/></g>
<g id="n659-263"><use href="#W" x="659" y="263"/></g>
<g id="n651-287"><use href="#W" x="651" y="287"/></g>
<g id="n629-303"><use href="#W" x="629" y="303"/></g>
<g id="n649-323"><use href="#W" x="649" y="323"/></g>
<g id="n671-321"><use href="#G" x="671" y="321"/></g>
<g id="n658-341"><use href="#W" x="658" y="341"/></g>
<g id="n672-351"><use href="#W" x="672" y="351"/></g>
<g id="n688-247"><use href="#W" x="688" y="247"/></g>
</g>
<g id="legend">
<text class="lg" x="489" y="545" textLength="414" lengthAdjust="spacingAndGlyphs">Discriminación autoinformada Medellín</text>
<text class="lg2" x="493" y="575.5" textLength="19" lengthAdjust="spacingAndGlyphs">SI</text>
<rect x="521" y="557" width="23" height="25" fill="#bdbdbd" stroke="#777" stroke-width="1"/>
<text class="lg2" x="553" y="575.5" textLength="38" lengthAdjust="spacingAndGlyphs">NO</text>
<rect x="600" y="557" width="23" height="25" fill="#fff" stroke="#777" stroke-width="1"/>
</g>
</svg>
